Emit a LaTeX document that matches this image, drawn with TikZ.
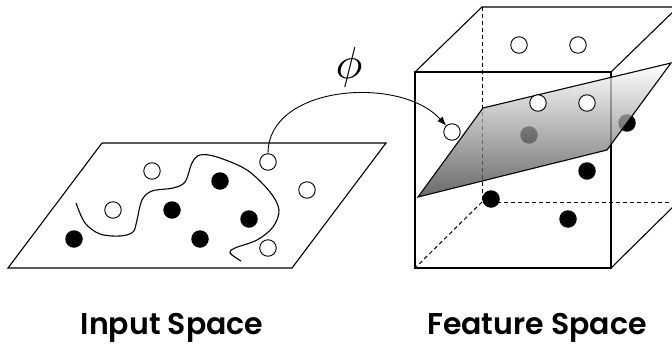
\documentclass[tikz,border=0pt]{standalone}
\usepackage{fontspec}
\newfontfamily\capfont{Poppins SemiBold}
\usetikzlibrary{arrows.meta}

\begin{document}
\begin{tikzpicture}[
  x=1pt, y=-1pt,
  edge/.style={line width=1.1pt},
  hidden/.style={line width=1pt, dashed, dash pattern=on 4pt off 3pt},
  hollowpt/.style={circle, draw, line width=0.9pt, fill=white, minimum size=16.5pt, inner sep=0pt},
  fullpt/.style={circle, fill=black, minimum size=17.5pt, inner sep=0pt},
  plane/.style={draw, line width=1.1pt, top color=white, bottom color=black!78, fill opacity=0.75, draw opacity=1},
  caption/.style={anchor=base, font=\capfont\fontsize{30}{36}\selectfont},
  arr/.style={line width=0.9pt, -{Latex[length=9pt, width=7pt]}},
]
\useasboundingbox (0,0) rectangle (672,345);

% input space
\draw[edge] (102,143) -- (386,143) -- (292,268) -- (8,268) -- cycle;
\draw[edge] plot[smooth, tension=0.55] coordinates {(76,203) (85,223) (100,234) (120,236) (133,232)
  (137,220) (142,200) (152,191) (173,188) (185,182) (192,163) (200,155) (217,157) (247,170)
  (270,192) (279,210) (273,227) (257,240) (235,248) (230,253) (241,261)};
\foreach \x/\y [count=\i] in {152/171, 268/162, 307/190, 113/210, 268/248}
  \node[hollowpt] (iw\i) at (\x,\y) {};
\foreach \x/\y [count=\i] in {220/181, 172/210, 249/219, 74/239, 200/239}
  \node[fullpt] (ib\i) at (\x,\y) {};

% feature space
\draw[hidden] (482,7) -- (482,202) -- (678,202);
\draw[hidden] (482,202) -- (415,268);
\draw[edge] (415,72) rectangle (611,268);
\draw[edge] (415,72) -- (482,7) -- (678,7) -- (611,72);
\draw[edge] (678,7) -- (678,202) -- (611,268);
\foreach \x/\y [count=\i] in {519/45, 578/45, 452/132}
  \node[hollowpt] (fw\i) at (\x,\y) {};
\foreach \x/\y [count=\i] in {529/135, 627/123}
  \node[fullpt] (fb\i) at (\x,\y) {};
\draw[plane] (483,108) -- (671,63) -- (607,150) -- (418,197) -- cycle;
\foreach \x/\y [count=\i from 4] in {538/103, 587/103}
  \node[hollowpt] (fw\i) at (\x,\y) {};
\foreach \x/\y [count=\i from 3] in {587/171, 491/199, 568/219}
  \node[fullpt] (fb\i) at (\x,\y) {};

% mapping
\draw[arr] (iw2) .. controls (268,85) and (400,75) .. (fw3);
\node (phi) at (349,67) {\scalebox{4.5}{$\phi$}};

\node[caption] (lin) at (172,334) {Input Space};
\node[caption] (lfe) at (537,334) {Feature Space};
\end{tikzpicture}
\end{document}
